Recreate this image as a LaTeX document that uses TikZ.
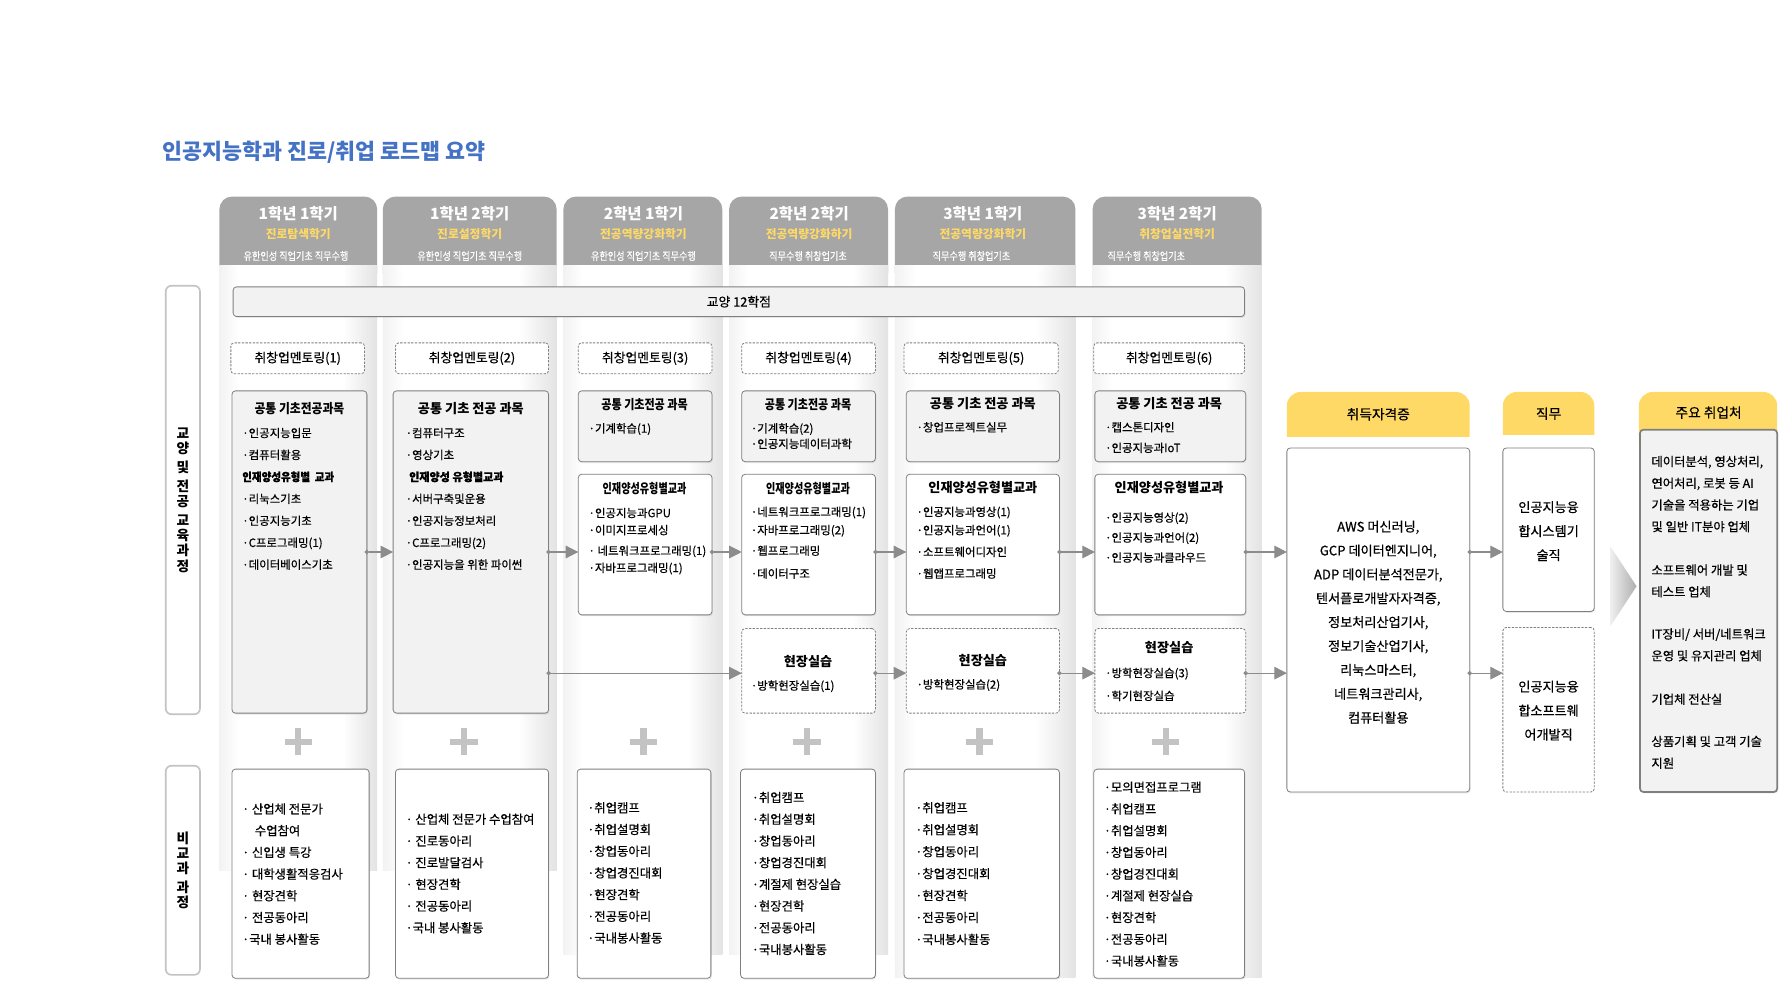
\documentclass[tikz,border=0pt]{standalone}
\usepackage{fontspec}
\usepackage{graphicx}
\setmainfont{Noto Sans CJK KR}
\newfontfamily\md{Noto Sans CJK KR}[FakeBold=0.45]
\usetikzlibrary{arrows.meta,shadows}

\definecolor{hgray}{HTML}{A6A6A6}
\definecolor{hyellow}{HTML}{FFD966}
\definecolor{boxgray}{HTML}{F2F2F2}
\definecolor{bgray}{HTML}{7F7F7F}
\definecolor{tblue}{HTML}{4472C4}
\definecolor{pgray}{HTML}{C3C3C3}
\definecolor{agray}{HTML}{8C8C8C}

\pgfdeclarehorizontalshading{stripshade}{100bp}{color(0bp)=(black!5); color(25bp)=(black!5); color(31bp)=(white); color(64bp)=(white); color(75bp)=(black!11); color(100bp)=(black!11)}

\newcommand{\fs}[1]{\fontsize{#1}{#1}\selectfont}
% box: name, style, x1, y1, x2, y2
\newcommand{\bx}[6]{\node[#2,minimum width={#5-#3},minimum height={#6-#4}] (#1) at (#3,#4) {};}
% text lines: name, x, y0, dy, list
\newcommand{\tl}[5]{\foreach \itm [count=\i] in {#5}{\node[txt] (#1-\i) at ({#2},{#3+(\i-1)*(#4)}) {\itm};}}
\newcommand{\tlb}[5]{\foreach \itm [count=\i] in {#5}{\node[btxt] (#1-\i) at ({#2},{#3+(\i-1)*(#4)}) {\itm};}}
% column strip with header: x1, x2, ybottom
\newcommand{\colstrip}[3]{%
  \fill[hgray,rounded corners=11pt] (#1,172) rectangle (#2,250);
  \path[shading=stripshade] (#1,232) rectangle (#2,#3);}
\newcommand{\colhead}[6]{% name, x, line1, line2, line3, x3
  \node[font=\fs{13.5}\bfseries,text=white] (#1a) at (#2,187) {#3};
  \node[font=\fs{10.3}\bfseries,text=hyellow] (#1b) at (#2,205) {#4};
  \node[text=white] (#1c) at (#6,224) {\scalebox{0.84}[1]{\md\fs{9.5}#5}};}
\newcommand{\plussign}[2]{%
  \fill[pgray] (#1-12,#2-2.8) rectangle (#1+12,#2+2.8);
  \fill[pgray] (#1-2.8,#2-12) rectangle (#1+2.8,#2+12);}
\newcommand{\yhead}[5]{% name, x1, x2, ybottom, text
  \fill[hyellow,rounded corners=12pt] (#2,343) rectangle (#3,398);
  \fill[white] (#2-1,#4) rectangle (#3+1,398);
  \node[font=\md\fs{12}] (#1) at ({(#2+#3)/2},{(343+#4)/2}) {#5};}

\begin{document}
\begin{tikzpicture}[x=1pt,y=-1pt,
  every node/.style={inner sep=0pt,outer sep=0pt},
  boxbase/.style={draw=bgray,line width=0.7pt,rounded corners=3pt,anchor=north west},
  solidbox/.style={boxbase,fill=white,drop shadow={shadow xshift=0.8pt,shadow yshift=-1.2pt,opacity=0.18}},
  graybox/.style={solidbox,fill=boxgray},
  dashbox/.style={boxbase,dash pattern=on 2pt off 1.2pt,fill=white},
  txt/.style={anchor=west,font=\md\fs{10},text height=8.8pt,text depth=1.6pt},
  btxt/.style={anchor=west,font=\md\fs{10.8},text height=9.4pt,text depth=1.7pt},
  ctxt/.style={anchor=center,font=\md\fs{11.5},text height=10pt,text depth=1.8pt},
  head/.style={anchor=center,font=\fs{11.5}\bfseries,text height=10pt,text depth=1.8pt},
  conn/.style={draw=agray,line width=0.9pt,{Circle[length=3.8pt,fill=agray]}-{Triangle[length=11pt,width=11pt,fill=agray]},shorten <=-1.9pt},
]
\fill[white] (0,0) rectangle (1568,882);
\useasboundingbox (0,0) rectangle (1568,882);

% title
\node[anchor=west,font=\fs{19}\bfseries,text=tblue] (title) at (142,133) {인공지능학과 진로/취업 로드맵 요약};

% column strips and headers
\colstrip{192}{330}{762}
\colstrip{335}{487}{762}
\colstrip{493}{632}{835}
\colstrip{638}{777}{835}
\colstrip{783}{941}{855}
\colstrip{956}{1104}{855}
\colhead{h1}{261}{1학년 1학기}{진로탐색학기}{유한인성 직업기초 직무수행}{259}
\colhead{h2}{411}{1학년 2학기}{진로설정학기}{유한인성 직업기초 직무수행}{411}
\colhead{h3}{563}{2학년 1학기}{전공역량강화학기}{유한인성 직업기초 직무수행}{563}
\colhead{h4}{708}{2학년 2학기}{전공역량강화하기}{직무수행 취창업기초}{707}
\colhead{h5}{860}{3학년 1학기}{전공역량강화학기}{직무수행 취창업기초}{850}
\colhead{h6}{1030}{3학년 2학기}{취창업실전학기}{직무수행 취창업기초}{1003}

% left labels
\node[draw=pgray,line width=1.4pt,rounded corners=5pt,fill=white,anchor=north west,minimum width=30,minimum height=375] (L1) at (145,250) {};
\node[font=\fontsize{12}{13.4}\selectfont\bfseries,align=center] (L1t) at (L1.center) {교\\양\\[3pt]및\\[3pt]전\\공\\[3pt]교\\육\\과\\정};
\node[draw=pgray,line width=1.4pt,rounded corners=5pt,fill=white,anchor=north west,minimum width=30,minimum height=183] (L2) at (145,670) {};
\node[font=\fontsize{12}{13.4}\selectfont\bfseries,align=center] (L2t) at (L2.center) {비\\교\\과\\[3pt]과\\정};

% general education bar
\bx{gen}{graybox}{204}{251}{1089}{277}
\node[font=\md\fs{11.2}] (gent) at (gen.center) {교양 12학점};

% mentoring
\bx{m1}{dashbox}{202}{300}{319}{327}
\bx{m2}{dashbox}{346}{300}{480}{327}
\bx{m3}{dashbox}{506}{300}{623}{327}
\bx{m4}{dashbox}{649}{300}{766}{327}
\bx{m5}{dashbox}{791}{300}{926}{327}
\bx{m6}{dashbox}{957}{300}{1089}{327}
\foreach \k in {1,...,6}{\node[font=\md\fs{11.2}] (m\k t) at (m\k.center) {취창업멘토링(\k)};}

% major course boxes
\bx{c1}{graybox}{203}{342}{321}{624}
\bx{c2}{graybox}{344}{342}{480}{624}
\bx{c3a}{graybox}{506}{342}{623}{404}
\bx{c3b}{solidbox}{506}{415}{623}{538}
\bx{c4a}{graybox}{649}{342}{766}{404}
\bx{c4b}{solidbox}{649}{415}{766}{538}
\bx{c4c}{dashbox}{649}{550}{766}{624}
\bx{c5a}{graybox}{793}{342}{927}{404}
\bx{c5b}{solidbox}{793}{415}{927}{538}
\bx{c5c}{dashbox}{793}{550}{927}{624}
\bx{c6a}{graybox}{958}{342}{1090}{404}
\bx{c6b}{solidbox}{958}{415}{1090}{538}
\bx{c6c}{dashbox}{958}{550}{1090}{624}

% col1
\node[head] (c1h) at (262,358) {\scalebox{0.9}[1]{공통 기초전공과목}};
\tl{c1l}{212}{379}{19.2}{·인공지능입문,·컴퓨터활용,{\bfseries\scalebox{0.92}[1]{인재양성유형별\ \ 교과}},·리눅스기초,·인공지능기초,·C프로그래밍(1),·데이터베이스기초}
% col2
\node[head] (c2h) at (412,358) {공통 기초 전공 과목};
\tl{c2l}{355}{379}{19.2}{·컴퓨터구조,·영상기초,{\hspace{3pt}\bfseries\scalebox{0.97}[1]{인재양성 유형별교과}},·서버구축및운용,·인공지능정보처리,·C프로그래밍(2),·인공지능을 위한 파이썬}
% col3
\node[head] (c3ah) at (564,354) {\scalebox{0.84}[1]{공통 기초전공 과목}};
\tl{c3al}{515}{375}{19}{·기계학습(1)}
\node[head] (c3bh) at (564,428) {\scalebox{0.77}[1]{인재양성유형별교과}};
\node[txt] (c3b-1) at (515,449) {·인공지능과GPU};
\node[txt] (c3b-2) at (515,464) {·이미지프로세싱};
\node[txt] (c3b-3) at (515,482) {· 네트워크프로그래밍(1)};
\node[txt] (c3b-4) at (515,497) {·자바프로그래밍(1)};
% col4
\node[head] (c4ah) at (707,354) {\scalebox{0.84}[1]{공통 기초전공 과목}};
\tl{c4al}{657}{375}{13.5}{·기계학습(2),·인공지능데이터과학}
\node[head] (c4bh) at (707,428) {\scalebox{0.77}[1]{인재양성유형별교과}};
\node[txt] (c4b-1) at (657,448) {·네트워크프로그래밍(1)};
\node[txt] (c4b-2) at (657,464) {·자바프로그래밍(2)};
\node[txt] (c4b-3) at (657,482) {·웹프로그래밍};
\node[txt] (c4b-4) at (657,502) {·데이터구조};
\node[head] (c4ch) at (707,579) {현장실습};
\tl{c4cl}{657}{600}{19}{·방학현장실습(1)}
% col5
\node[head] (c5ah) at (860,353) {공통 기초 전공 과목};
\tl{c5al}{802}{374}{19}{·창업프로젝트실무}
\node[head] (c5bh) at (860,427) {인재양성유형별교과};
\node[txt] (c5b-1) at (802,448) {·인공지능과영상(1)};
\node[txt] (c5b-2) at (802,464) {·인공지능과언어(1)};
\node[txt] (c5b-3) at (802,483) {·소프트웨어디자인};
\node[txt] (c5b-4) at (802,502) {·웹앱프로그래밍};
\node[head] (c5ch) at (860,578) {현장실습};
\tl{c5cl}{802}{599}{19}{·방학현장실습(2)}
% col6
\node[head] (c6ah) at (1023,353) {공통 기초 전공 과목};
\tl{c6al}{967}{374}{18}{·캡스톤디자인,·인공지능과IoT}
\node[head] (c6bh) at (1023,427) {인재양성유형별교과};
\tl{c6bl}{967}{453}{17.5}{·인공지능영상(2),·인공지능과언어(2),·인공지능과클라우드}
\node[head] (c6ch) at (1023,567) {현장실습};
\tl{c6cl}{967}{589}{20}{·방학현장실습(3),·학기현장실습}

% plus signs
\plussign{261}{649}
\plussign{406}{649}
\plussign{563}{649}
\plussign{706}{649}
\plussign{857}{649}
\plussign{1020}{649}

% extracurricular boxes
\bx{b1}{solidbox}{203}{673}{323}{856}
\bx{b2}{solidbox}{346}{673}{480}{856}
\bx{b3}{solidbox}{505}{673}{622}{856}
\bx{b4}{solidbox}{648}{673}{766}{856}
\bx{b5}{solidbox}{791}{673}{927}{856}
\bx{b6}{solidbox}{957}{673}{1089}{856}
\tlb{b1l}{212}{708}{19}{· 산업체 전문가,\hspace{11pt}수업참여,· 신입생 특강,· 대학생활적응검사,· 현장견학,· 전공동아리,·국내 봉사활동}
\tlb{b2l}{355}{717}{19}{· 산업체 전문가 수업참여,· 진로동아리,· 진로발달검사,· 현장견학,· 전공동아리,·국내 봉사활동}
\tlb{b3l}{514}{707}{19}{·취업캠프,·취업설명회,·창업동아리,·창업경진대회,·현장견학,·전공동아리,·국내봉사활동}
\tlb{b4l}{658}{698}{19}{·취업캠프,·취업설명회,·창업동아리,·창업경진대회,·계절제 현장실습,·현장견학,·전공동아리,·국내봉사활동}
\tlb{b5l}{801}{707}{19.2}{·취업캠프,·취업설명회,·창업동아리,·창업경진대회,·현장견학,·전공동아리,·국내봉사활동}
\tlb{b6l}{966}{689}{19}{·모의면접프로그램,·취업캠프,·취업설명회,·창업동아리,·창업경진대회,·계절제 현장실습,·현장견학,·전공동아리,·국내봉사활동}

% right side
\yhead{y1}{1126}{1286}{382}{취득자격증}
\yhead{y2}{1315}{1395}{381}{직무}
\fill[hyellow,rounded corners=12pt] (1434,343) rectangle (1555,398);
\bx{cert}{solidbox}{1126}{392}{1286}{693}
\bx{j1}{solidbox}{1315}{392}{1395}{535}
\bx{j2}{dashbox}{1315}{549}{1395}{693}
\node[boxbase,fill=boxgray,line width=1.5pt,minimum width=120,minimum height=317,drop shadow={shadow xshift=0.8pt,shadow yshift=-1.2pt,opacity=0.18}] (emp) at (1435,376) {};
\node[font=\md\fs{12}] (y3) at (1495,361) {주요 취업처};

\foreach \itm [count=\i] in {AWS 머신러닝{,},GCP 데이터엔지니어{,},ADP 데이터분석전문가{,},텐서플로개발자자격증{,},정보처리산업기사{,},정보기술산업기사{,},리눅스마스터{,},네트워크관리사{,},컴퓨터활용}
  {\node[ctxt] (ct-\i) at (1206,{461+(\i-1)*20.9}) {\itm};}
\foreach \itm [count=\i] in {인공지능융,합시스템기,술직}
  {\node[ctxt] (j1t-\i) at (1355,{444+(\i-1)*21}) {\itm};}
\foreach \itm [count=\i] in {인공지능융,합소프트웨,어개발직}
  {\node[ctxt] (j2t-\i) at (1355,{601+(\i-1)*21}) {\itm};}
\node[btxt] (et-1) at (1445,404) {데이터분석, 영상처리,};
\node[btxt] (et-2) at (1445,423) {연어처리, 로봇 등 AI};
\node[btxt] (et-3) at (1445,442) {기술을 적용하는 기업};
\node[btxt] (et-4) at (1445,461) {및 일반 IT분야 업체};
\node[btxt] (et-5) at (1445,499) {소프트웨어 개발 및};
\node[btxt] (et-6) at (1445,518) {테스트 업체};
\node[btxt] (et-7) at (1445,555) {IT장비/ 서버/네트워크};
\node[btxt] (et-8) at (1445,574) {운영 및 유지관리 업체};
\node[btxt] (et-9) at (1445,612) {기업체 전산실};
\node[btxt] (et-10) at (1445,649) {상품기획 및 고객 기술};
\node[btxt] (et-11) at (1445,668) {지원};

% chevron
\shade[left color=black!6,right color=black!32] (1409,478) -- (1432,513) -- (1409,548) -- cycle;

% connectors
\coordinate (rA) at (0,483);
\coordinate (rB) at (0,589);
\draw[conn] (c1.east |- rA) -- (c2.west |- rA);
\draw[conn] (c2.east |- rA) -- (c3b.west |- rA);
\draw[conn] (c3b.east |- rA) -- (c4b.west |- rA);
\draw[conn] (c4b.east |- rA) -- (c5b.west |- rA);
\draw[conn] (c5b.east |- rA) -- (c6b.west |- rA);
\draw[conn] (c6b.east |- rA) -- (cert.west |- rA);
\draw[conn] (c2.east |- rB) -- (c4c.west |- rB);
\draw[conn] (c4c.east |- rB) -- (c5c.west |- rB);
\draw[conn] (c5c.east |- rB) -- (c6c.west |- rB);
\draw[conn] (c6c.east |- rB) -- (cert.west |- rB);
\draw[conn] (cert.east |- rA) -- (j1.west |- rA);
\draw[conn] (cert.east |- rB) -- (j2.west |- rB);
\end{tikzpicture}
\end{document}
